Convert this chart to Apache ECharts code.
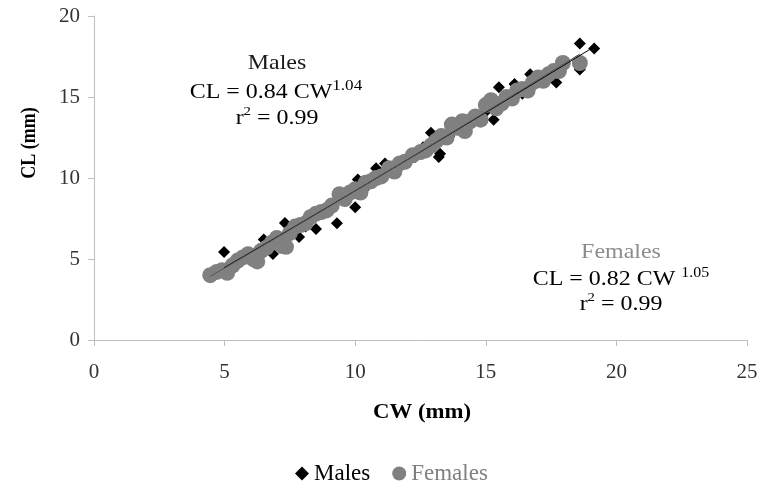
<!DOCTYPE html>
<html>
<head>
<meta charset="utf-8">
<script src="https://cdn.jsdelivr.net/npm/echarts@6/dist/echarts.min.js"></script>
<style>
  html, body { margin: 0; padding: 0; background: #fff; }
  #chart { width: 761px; height: 485px; }
</style>
</head>
<body>
<div id="chart"></div>
<script>
// CW / CL pairs (mm)
var males = [
  [4.98, 5.43], [5.3, 4.6], [5.6, 4.8], [5.9, 5.2], [6.3, 5.6], [6.5, 6.2],
  [6.85, 5.31], [7.0, 6.1], [7.31, 7.22], [7.6, 6.7], [7.85, 6.36], [8.1, 7.0],
  [8.5, 6.85], [8.7, 7.8], [9.0, 8.1], [9.3, 7.2], [9.6, 8.6], [10.0, 8.2],
  [10.1, 9.9], [10.4, 9.4], [10.8, 10.6], [11.14, 10.9], [11.5, 10.5], [11.9, 11.1],
  [12.3, 11.3], [12.6, 11.9], [12.9, 12.8], [13.2, 11.3], [13.25, 11.5], [13.6, 12.6],
  [14.0, 13.0], [14.3, 13.4], [14.7, 13.8], [15.0, 14.1], [15.3, 13.6], [15.5, 15.6],
  [15.8, 14.7], [16.1, 15.8], [16.4, 15.2], [16.7, 16.4], [17.0, 15.9], [17.3, 16.3],
  [17.7, 15.9], [18.0, 17.0], [18.6, 16.7], [18.6, 18.3], [19.15, 18.0]
];
var females = [
  [4.45, 4.0], [4.7, 4.2], [4.9, 4.3], [5.1, 4.15], [5.3, 4.6], [5.5, 4.9],
  [5.7, 5.1], [5.9, 5.3], [6.1, 5.0], [6.25, 4.85], [6.4, 5.5], [6.6, 5.7],
  [6.8, 6.0], [7.0, 6.3], [7.2, 5.8], [7.35, 5.75], [7.5, 6.6], [7.7, 7.0],
  [7.9, 7.1], [8.1, 7.2], [8.3, 7.6], [8.5, 7.8], [8.7, 7.9], [8.9, 8.0],
  [9.1, 8.3], [9.4, 9.0], [9.6, 8.7], [9.8, 9.1], [10.0, 9.3], [10.2, 9.1],
  [10.4, 9.7], [10.6, 9.8], [10.8, 10.0], [11.0, 10.1], [11.3, 10.6], [11.5, 10.4],
  [11.7, 10.9], [11.9, 11.0], [12.2, 11.4], [12.5, 11.6], [12.7, 11.7], [12.9, 12.0],
  [13.1, 12.3], [13.3, 12.6], [13.5, 12.5], [13.7, 13.3], [13.9, 13.1], [14.1, 13.5],
  [14.2, 12.9], [14.4, 13.5], [14.6, 13.8], [14.8, 13.6], [15.0, 14.5], [15.2, 14.8],
  [15.4, 14.3], [15.6, 14.6], [15.8, 15.0], [16.0, 14.9], [16.2, 15.4], [16.4, 15.5],
  [16.6, 15.4], [16.8, 15.9], [17.0, 16.2], [17.2, 16.0], [17.4, 16.4], [17.6, 16.6],
  [17.8, 16.6], [17.95, 17.1], [18.6, 17.1]
];
// power fits printed on the chart: CL = a * CW^b, over [xFrom, xTo]
var maleFit = [0.84, 1.04, 4.98, 19.15];
var femaleFit = [0.82, 1.05, 4.45, 18.6];
var xTicks = [0, 5, 10, 15, 20, 25];
var yTicks = [0, 5, 10, 15, 20];

function fitLine(f) {
  var pts = [];
  var n = 20;
  for (var i = 0; i <= n; i++) {
    var x = f[2] + (f[3] - f[2]) * i / n;
    pts.push([x, f[0] * Math.pow(x, f[1])]);
  }
  return pts;
}

var serif = "'Liberation Serif', 'DejaVu Serif', serif";
var axisGray = '#bfbfbf';
var stretch = 1.14; // the source picture is a bit wider than tall

// text lines with a superscript part
function supText(x, y, main, sup, after, color, supSize) {
  return {
    type: 'text', x: x, y: y, scaleX: stretch,
    style: {
      text: '{n|' + main + '}{s|' + sup + '}' + (after ? '{n|' + after + '}' : ''),
      align: 'center', verticalAlign: 'middle',
      rich: {
        n: { fontFamily: serif, fontSize: 21, color: color, lineHeight: 24, verticalAlign: 'bottom' },
        s: { fontFamily: serif, fontSize: supSize, color: color, lineHeight: 24, verticalAlign: 'top' }
      }
    }
  };
}

var chart = echarts.init(document.getElementById('chart'));
chart.setOption({
  animation: false,
  textStyle: { fontFamily: serif },
  grid: { left: 94, right: 14, top: 16, bottom: 145 },
  legend: {
    left: 290,
    top: 457,
    itemGap: 22,
    itemWidth: 14,
    itemHeight: 14,
    textStyle: { fontFamily: serif, fontSize: 23 },
    data: [
      { name: 'Males', icon: 'diamond', textStyle: { color: '#000' } },
      { name: 'Females', icon: 'circle', textStyle: { color: '#808080' } }
    ]
  },
  xAxis: {
    type: 'value',
    min: xTicks[0],
    max: xTicks[xTicks.length - 1],
    interval: 5,
    axisLine: { show: true, lineStyle: { color: axisGray, width: 1 } },
    axisTick: { show: true, inside: false, length: 6, lineStyle: { color: axisGray } },
    axisLabel: { margin: 22, fontSize: 21, color: '#333', fontFamily: serif },
    splitLine: { show: false }
  },
  yAxis: {
    type: 'value',
    min: yTicks[0],
    max: yTicks[yTicks.length - 1],
    interval: 5,
    axisLine: { show: true, lineStyle: { color: axisGray, width: 1 } },
    axisTick: { show: true, inside: false, length: 6, lineStyle: { color: axisGray } },
    axisLabel: { margin: 14, fontSize: 21, color: '#333', fontFamily: serif },
    splitLine: { show: false }
  },
  graphic: [
    {
      type: 'text', x: 422, y: 413, scaleX: stretch,
      style: { text: 'CW (mm)', font: "bold 20px " + serif, fill: '#000', align: 'center', verticalAlign: 'middle' }
    },
    {
      type: 'text', x: 30, y: 143, rotation: Math.PI / 2, scaleY: stretch,
      style: { text: 'CL (mm)', font: "bold 18px " + serif, fill: '#000', align: 'center', verticalAlign: 'middle' }
    },
    {
      type: 'text', x: 277, y: 63, scaleX: stretch,
      style: { text: 'Males', font: "21px " + serif, fill: '#1a1a1a', align: 'center', verticalAlign: 'middle' }
    },
    supText(276, 91, 'CL = 0.84 CW', '1.04', '', '#1a1a1a', 15),
    supText(277, 117, 'r', '2', ' = 0.99', '#1a1a1a', 13),
    {
      type: 'text', x: 621, y: 252, scaleX: stretch,
      style: { text: 'Females', font: "21px " + serif, fill: '#8c8c8c', align: 'center', verticalAlign: 'middle' }
    },
    supText(621, 278, 'CL = 0.82 CW ', '1.05', '', '#8c8c8c', 14),
    supText(621, 303, 'r', '2', ' = 0.99', '#8c8c8c', 13)
  ],
  series: [
    {
      name: 'Males',
      type: 'scatter',
      symbol: 'diamond',
      symbolSize: 12,
      itemStyle: { color: '#000', opacity: 1 },
      data: males,
      z: 2
    },
    {
      name: 'Females',
      type: 'scatter',
      symbol: 'circle',
      symbolSize: 16,
      itemStyle: { color: '#808080', opacity: 1 },
      data: females,
      z: 3
    },
    {
      name: 'Males fit',
      type: 'line',
      showSymbol: false,
      silent: true,
      lineStyle: { color: '#000', width: 1 },
      data: fitLine(maleFit),
      z: 4
    },
    {
      name: 'Females fit',
      type: 'line',
      showSymbol: false,
      silent: true,
      lineStyle: { color: '#555', width: 1 },
      data: fitLine(femaleFit),
      z: 4
    }
  ]
});
window.addEventListener('resize', function () {
  chart.resize();
});
</script>
</body>
</html>
